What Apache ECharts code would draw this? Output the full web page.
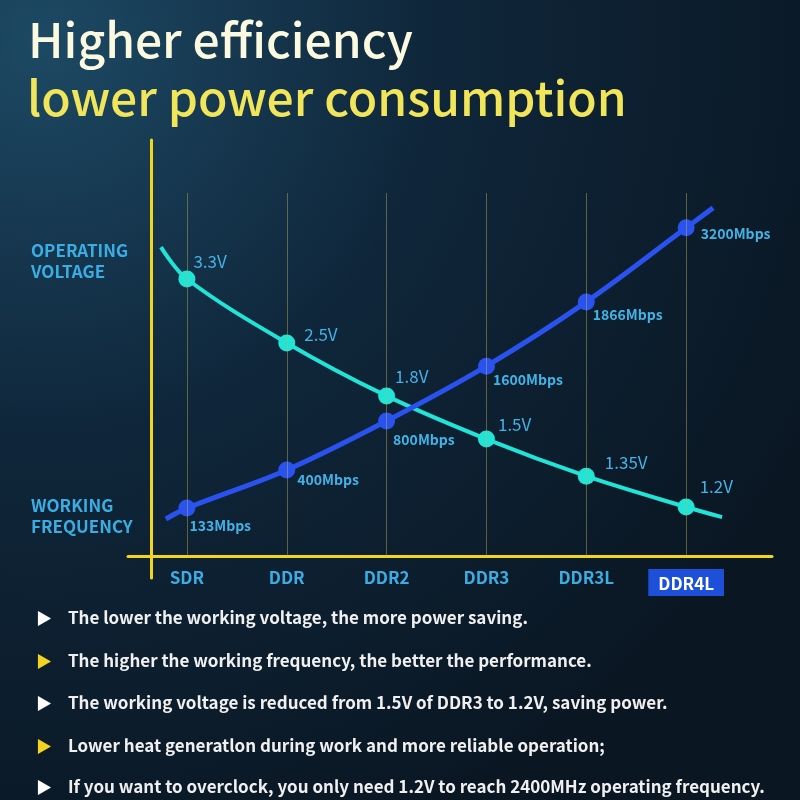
<!DOCTYPE html>
<html>
<head>
<meta charset="utf-8">
<style>
html,body{margin:0;padding:0;background:#0c1c2b;}
#chart{width:800px;height:800px;}
</style>
<script src="https://cdn.jsdelivr.net/npm/echarts@6/dist/echarts.min.js"></script>
</head>
<body>
<div id="chart"></div>
<script>

// data
const categories = ['SDR', 'DDR', 'DDR2', 'DDR3', 'DDR3L', 'DDR4L'];
const voltage = [3.3, 2.5, 1.8, 1.5, 1.35, 1.2];
const frequency = [133, 400, 800, 1600, 1866, 3200];
// plotted height of each point on the (schematic, unlabelled) vertical scale 0-100
const voltageLevel = [76.3, 58.7, 44.1, 32.2, 22.0, 13.5];
const frequencyLevel = [13.2, 23.7, 37.2, 52.3, 70.0, 90.4];
// where the curves start and stop beyond the first / last point
const voltageEnds = [[-0.26, 85.1], [5.36, 10.7]];
const frequencyEnds = [[-0.21, 10.2], [5.27, 95.9]];

const notes = [
    'The lower the working voltage, the more power saving.',
    'The higher the working frequency, the better the performance.',
    'The working voltage is reduced from 1.5V of DDR3 to 1.2V, saving power.',
    'Lower heat generatlon during work and more reliable operation;',
    'If you want to overclock, you only need 1.2V to reach 2400MHz operating frequency.'
];

// label placement (style only)
const voltageLabelOffset = [[6, -17], [17, -8], [8, -19], [11, -15], [18, -14], [13, -20]];
const frequencyLabelOffset = [[2, 18], [10, 10], [6, 19], [6, 14], [6, 13], [14, 6]];

const fontCJK = 'Noto Sans CJK SC';
const blueText = '#3aaee4';
const yellow = '#f2d61e';

function buildLine(levels, ends, offsets){
    let arr = [];
    arr.push({ value: ends[0], symbol: 'none', label: { show: false } });
    for (let i = 0; i < levels.length; i++){
        arr.push({
            value: [i, levels[i]],
            label: { offset: [offsets[i][0] - 8, offsets[i][1]] }
        });
    }
    arr.push({ value: ends[1], symbol: 'none', label: { show: false } });
    return arr;
}

let titles = [
    {
        text: 'Higher efficiency',
        left: 23, top: 11,
        textStyle: { color: '#fbf9df', fontSize: 48, fontWeight: 500, fontFamily: fontCJK }
    },
    {
        text: 'lower power consumption',
        left: 22, top: 69,
        textStyle: { color: '#f1e65a', fontSize: 48, fontWeight: 500, fontFamily: fontCJK }
    },
    {
        text: 'OPERATING\nVOLTAGE',
        left: 26, top: 235,
        textStyle: { color: blueText, fontSize: 17, fontWeight: 'bold', lineHeight: 21, fontFamily: fontCJK }
    },
    {
        text: 'WORKING\nFREQUENCY',
        left: 26, top: 490,
        textStyle: { color: blueText, fontSize: 17, fontWeight: 'bold', lineHeight: 21, fontFamily: fontCJK }
    }
];

const noteCenters = [617, 660, 702, 745, 786];
for (let x = 0; x < notes.length; x++){
    titles.push({
        text: '{a|▶}{t|' + notes[x] + '}',
        left: 31, top: noteCenters[x] - 16,
        textStyle: {
            rich: {
                a: { color: (x % 2 == 0) ? '#ffffff' : '#f5d321', fontSize: 16, width: 32, lineHeight: 24, fontFamily: fontCJK },
                t: { color: '#f0f0f0', fontSize: 17, lineHeight: 24, fontFamily: fontCJK }
            }
        }
    });
}

let myChart = echarts.init(document.getElementById('chart'));

option = {
    backgroundColor: {
        type: 'radial', x: 0.05, y: 0.05, r: 1.1,
        colorStops: [
            { offset: 0, color: '#1d4964' },
            { offset: 0.45, color: '#0f263a' },
            { offset: 1, color: '#0a1622' }
        ]
    },
    animation: false,
    title: titles,
    grid: [
        { left: 128, right: 28, top: 193, bottom: 244 },
        { left: 151, width: 10, top: 140, bottom: 222 }
    ],
    xAxis: [
        {
            gridIndex: 0,
            type: 'value',
            min: -0.59,
            max: 5.86,
            axisLine: { show: true, onZero: false, lineStyle: { color: yellow, width: 3 } },
            axisTick: { show: false },
            splitLine: { show: false },
            axisLabel: {
                customValues: [0, 1, 2, 3, 4, 5],
                margin: 13,
                formatter: function (v) {
                    let name = categories[Math.round(v)];
                    return (Math.round(v) == categories.length - 1) ? '{hl|' + name + '}' : '{n|' + name + '}';
                },
                rich: {
                    n: { color: blueText, fontSize: 17, fontWeight: 'bold', fontFamily: fontCJK },
                    hl: { color: '#ffffff', fontSize: 17, fontWeight: 'bold', fontFamily: fontCJK,
                          backgroundColor: '#1d4fd8', padding: [6, 10, 4, 10] }
                }
            }
        },
        { gridIndex: 1, type: 'value', min: 0, max: 1, show: false }
    ],
    yAxis: [
        { gridIndex: 0, type: 'value', min: 0, max: 100, show: false },
        {
            gridIndex: 1, type: 'value', min: 0, max: 1,
            axisLine: { show: true, lineStyle: { color: yellow, width: 3 } },
            axisTick: { show: false },
            axisLabel: { show: false },
            splitLine: { show: false }
        }
    ],
    series: [
        {
            name: 'grid',
            type: 'line',
            z: 1,
            data: [],
            markLine: {
                silent: true,
                symbol: ['none', 'none'],
                label: { show: false },
                lineStyle: { color: 'rgba(190,178,90,0.45)', width: 1, type: 'solid' },
                data: categories.map(function (c, i) { return { xAxis: i }; })
            }
        },
        {
            name: 'OPERATING VOLTAGE',
            type: 'line',
            z: 3,
            smooth: 0.35,
            symbol: 'circle',
            symbolSize: 17,
            lineStyle: { color: '#21e4d7', width: 4 },
            itemStyle: { color: '#21e4d7' },
            label: {
                show: true,
                position: 'right',
                distance: 0,
                color: '#43b2e6',
                fontSize: 17,
                fontFamily: fontCJK,
                formatter: function (p) { return voltage[p.dataIndex - 1] + 'V'; }
            },
            data: buildLine(voltageLevel, voltageEnds, voltageLabelOffset)
        },
        {
            name: 'WORKING FREQUENCY',
            type: 'line',
            z: 4,
            smooth: 0.35,
            symbol: 'circle',
            symbolSize: 17,
            lineStyle: { color: '#2a52ee', width: 5 },
            itemStyle: { color: '#2a52ee' },
            label: {
                show: true,
                position: 'right',
                distance: 0,
                color: '#43b2e6',
                fontSize: 14,
                fontWeight: 'bold',
                fontFamily: fontCJK,
                formatter: function (p) { return frequency[p.dataIndex - 1] + 'Mbps'; }
            },
            data: buildLine(frequencyLevel, frequencyEnds, frequencyLabelOffset)
        }
    ]
};

myChart.setOption(option);
</script>
</body>
</html>
